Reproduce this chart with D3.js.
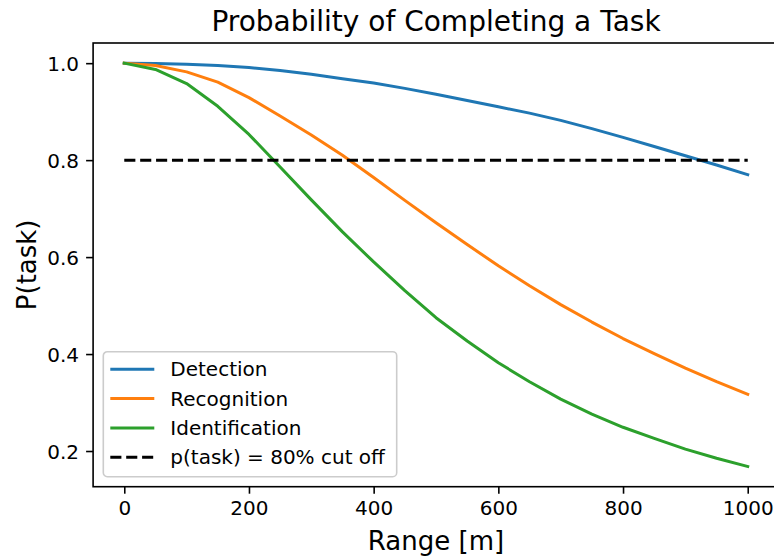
<!DOCTYPE html>
<html>
<head>
<meta charset="utf-8">
<script src="https://cdn.jsdelivr.net/npm/d3@7"></script>
<style>
  body { margin: 0; background: #fff; }
  svg { display: block; font-family: "DejaVu Sans", sans-serif; }
</style>
</head>
<body>
<svg id="chart" width="774" height="558"></svg>
<script>
// range samples [m]
const range = [0, 50, 100, 150, 200, 250, 300, 350, 400, 450, 500,
               550, 600, 650, 700, 750, 800, 850, 900, 950, 1000]

// values
const detection = [1.000, 0.9995, 0.998, 0.995, 0.991, 0.985, 0.977, 0.968, 0.959, 0.948, 0.936,
                   0.923, 0.910, 0.897, 0.882, 0.865, 0.847, 0.828, 0.809, 0.790, 0.770]
const recognition = [1.000, 0.995, 0.982, 0.961, 0.929, 0.891, 0.852, 0.810, 0.764, 0.717, 0.671,
                     0.626, 0.582, 0.541, 0.502, 0.466, 0.432, 0.401, 0.371, 0.343, 0.317]
const identification = [1.000, 0.987, 0.958, 0.911, 0.853, 0.786, 0.718, 0.652, 0.590, 0.531, 0.475,
                         0.427, 0.382, 0.343, 0.307, 0.276, 0.249, 0.226, 0.204, 0.185, 0.168]

const cutoff = 0.8
const xTicks = [0, 200, 400, 600, 800, 1000]
const yTicks = [0.2, 0.4, 0.6, 0.8, 1.0]

const series = [
    {name: 'Detection', values: detection, color: '#1f77b4'},
    {name: 'Recognition', values: recognition, color: '#ff7f0e'},
    {name: 'Identification', values: identification, color: '#2ca02c'}
]

const axLeft = 93.1, axRight = 778.9, axTop = 43, axBottom = 486.7

const svg = d3.select('#chart')

// matplotlib style 5% margins
const xMin = d3.min(range), xMax = d3.max(range)
const xPad = (xMax - xMin) * 0.05
const x = d3.scaleLinear()
    .domain([xMin - xPad, xMax + xPad])
    .range([axLeft, axRight])

const allY = detection.concat(recognition, identification)
const yMin = d3.min(allY), yMax = d3.max(allY)
const yPad = (yMax - yMin) * 0.05
const y = d3.scaleLinear()
    .domain([yMin - yPad, yMax + yPad])
    .range([axBottom, axTop])

const line = d3.line()
    .x((d, i) => x(range[i]))
    .y(d => y(d))

// curves
series.forEach(s => {
    svg.append('path')
        .datum(s.values)
        .attr('fill', 'none')
        .attr('stroke', s.color)
        .attr('stroke-width', 3)
        .attr('stroke-linejoin', 'round')
        .attr('stroke-linecap', 'square')
        .attr('d', line)
})

// cut off line
svg.append('path')
    .datum([xMin, xMax])
    .attr('fill', 'none')
    .attr('stroke', '#000')
    .attr('stroke-width', 3)
    .attr('stroke-dasharray', '11.1,4.8')
    .attr('d', d3.line().x(d => x(d)).y(() => y(cutoff)))

// axes
const xAxis = svg.append('g')
    .attr('transform', 'translate(0,' + axBottom + ')')
    .call(d3.axisBottom(x).tickValues(xTicks).tickFormat(d3.format('d')).tickSizeOuter(0).tickSize(7).tickPadding(7))
const yAxis = svg.append('g')
    .attr('transform', 'translate(' + axLeft + ',0)')
    .call(d3.axisLeft(y).tickValues(yTicks).tickFormat(d3.format('.1f')).tickSizeOuter(0).tickSize(7).tickPadding(7))

;[xAxis, yAxis].forEach(g => {
    g.select('.domain').remove()
    g.selectAll('.tick line').attr('stroke', '#000').attr('stroke-width', 1.6)
    g.selectAll('.tick text').attr('fill', '#000').attr('font-size', 20)
        .attr('font-family', '"DejaVu Sans", sans-serif')
})
yAxis.selectAll('.tick text').attr('dy', '0.36em')

// frame
svg.append('rect')
    .attr('x', axLeft)
    .attr('y', axTop)
    .attr('width', axRight - axLeft)
    .attr('height', axBottom - axTop)
    .attr('fill', 'none')
    .attr('stroke', '#000')
    .attr('stroke-width', 1.6)

// title and labels
svg.append('text')
    .attr('x', (axLeft + axRight) / 2)
    .attr('y', 31)
    .attr('text-anchor', 'middle')
    .attr('font-size', 28)
    .text('Probability of Completing a Task')

svg.append('text')
    .attr('x', (axLeft + axRight) / 2)
    .attr('y', 550)
    .attr('text-anchor', 'middle')
    .attr('font-size', 26)
    .text('Range [m]')

svg.append('text')
    .attr('transform', 'translate(36,' + ((axTop + axBottom) / 2) + ') rotate(-90)')
    .attr('text-anchor', 'middle')
    .attr('font-size', 26)
    .text('P(task)')

// legend
const legendItems = series.map(s => ({name: s.name, color: s.color, dash: null}))
legendItems.push({name: 'p(task) = 80% cut off', color: '#000', dash: '11.1,4.8'})

const legend = svg.append('g').attr('transform', 'translate(103.3,351.7)')
legend.append('rect')
    .attr('width', 293.4)
    .attr('height', 125)
    .attr('rx', 4)
    .attr('fill', 'rgba(255,255,255,0.8)')
    .attr('stroke', '#cccccc')
    .attr('stroke-width', 1.6)

legendItems.forEach((d, i) => {
    const cy = 17.6 + i * 29.3
    legend.append('line')
        .attr('x1', 7)
        .attr('x2', 51)
        .attr('y1', cy)
        .attr('y2', cy)
        .attr('stroke', d.color)
        .attr('stroke-width', 3)
        .attr('stroke-dasharray', d.dash)
    legend.append('text')
        .attr('x', 67)
        .attr('y', cy)
        .attr('dy', '0.36em')
        .attr('font-size', 20)
        .text(d.name)
})
</script>
</body>
</html>
